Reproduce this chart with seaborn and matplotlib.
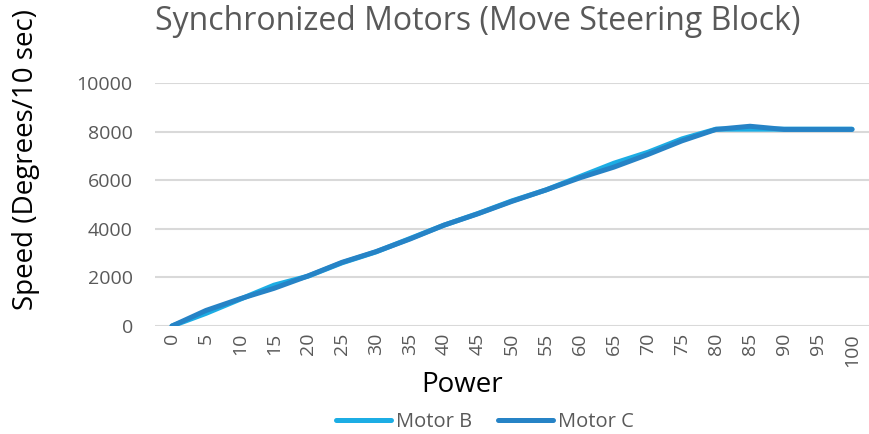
import pandas as pd
import matplotlib.pyplot as plt
import seaborn as sns

power = [0, 5, 10, 15, 20, 25, 30, 35, 40, 45, 50, 55, 60, 65, 70, 75, 80, 85, 90, 95, 100]
motor_b = [0, 520, 1100, 1680, 2050, 2600, 3050, 3600, 4150, 4630, 5150, 5600, 6150, 6700, 7150,
           7700, 8100, 8100, 8100, 8100, 8100]
motor_c = [0, 640, 1120, 1550, 2060, 2620, 3060, 3580, 4150, 4620, 5130, 5600, 6100, 6540, 7060,
           7620, 8090, 8220, 8090, 8090, 8090]
series = ['Motor B', 'Motor C']
colors = ['#1CADE4', '#2683C6']


def build_frame():
    df = pd.DataFrame({'Power': power, 'Motor B': motor_b, 'Motor C': motor_c})
    return df.melt(id_vars='Power', var_name='Motor', value_name='Speed')


def plot_speed(df):
    sns.set_style('white')
    plt.rcParams['font.family'] = ['Open Sans', 'DejaVu Sans']

    fig = plt.figure(figsize=(8.69, 4.34), dpi=100)
    ax = fig.add_axes([155 / 869, 1 - 326 / 434, 714 / 869, 243 / 434])

    sns.lineplot(data=df, x='Power', y='Speed', hue='Motor', hue_order=series,
                 palette=dict(zip(series, colors)), linewidth=3.6, ax=ax,
                 solid_capstyle='round')

    ax.set_xlim(-2.5, 102.5)
    ax.set_ylim(0, 10000)
    ax.set_xticks(power)
    ax.set_xticklabels([str(p) for p in power], rotation=90, color='#595959', fontsize=14)
    ax.set_yticks(range(0, 10001, 2000))
    ax.tick_params(axis='y', labelcolor='#595959', labelsize=14, length=0, pad=16)
    ax.tick_params(axis='x', length=0, pad=5)
    ax.grid(axis='y', color='#D9D9D9', linewidth=1.5)
    ax.set_axisbelow(True)
    for s in ax.spines.values():
        s.set_visible(False)

    ax.set_xlabel('Power', fontsize=20, color='black')
    ax.xaxis.set_label_coords((462 - 155) / 714, -(371 - 326) / 243)
    ax.set_ylabel('Speed (Degrees/10 sec)', fontsize=20, color='black')
    ax.yaxis.set_label_coords(-(155 - 40) / 714, (326 - 160) / 243)
    fig.text(478 / 869, 1 - 22 / 434, 'Synchronized Motors (Move Steering Block)', ha='center',
             va='center', fontsize=23, color='#595959')

    ax.legend(loc='center', bbox_to_anchor=(485 / 869, 12 / 434), bbox_transform=fig.transFigure,
              ncol=2, frameon=False, fontsize=14.5, handlelength=2.75, handletextpad=0.25,
              columnspacing=1.25, labelcolor='#595959')
    fig.savefig('out.png', dpi=100)


plot_speed(build_frame())
